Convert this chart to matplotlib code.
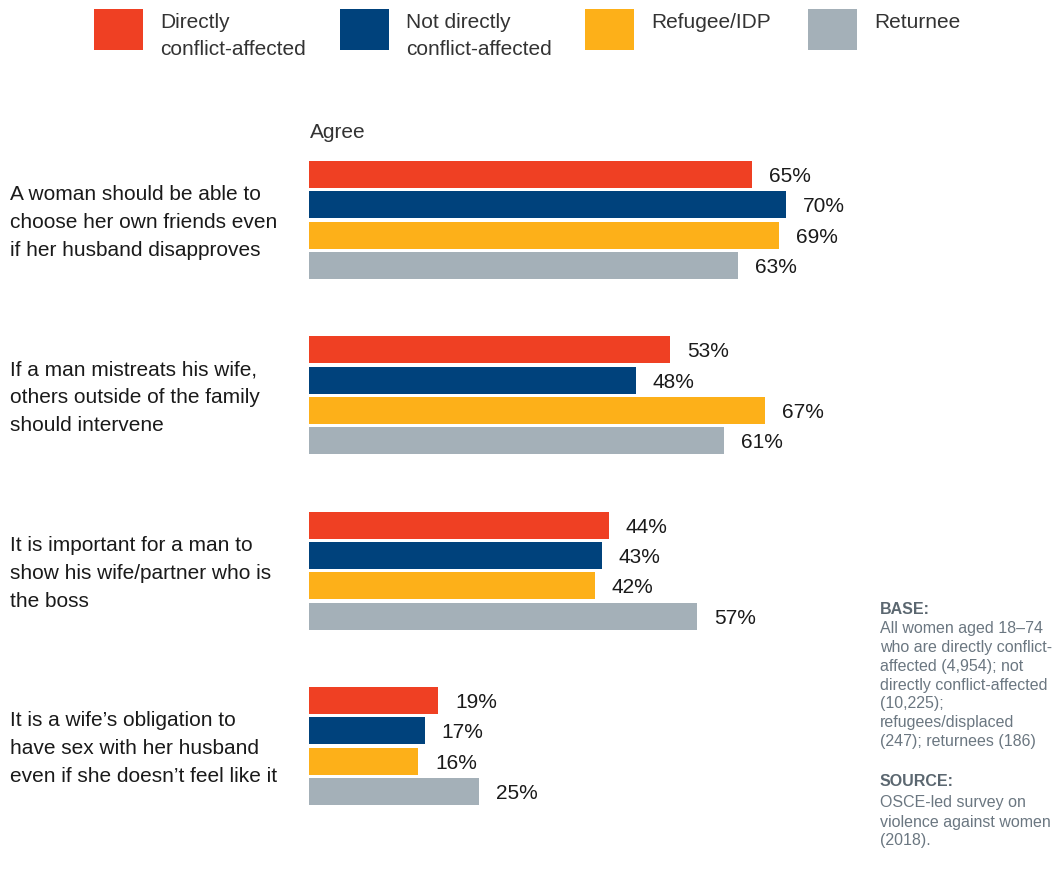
import matplotlib
matplotlib.use("Agg")
import matplotlib.pyplot as plt
from matplotlib.patches import Rectangle

plt.rcParams["font.family"] = ["Liberation Sans", "DejaVu Sans"]

# ---- data ----
statements = [
    "A woman should be able to\nchoose her own friends even\nif her husband disapproves",
    "If a man mistreats his wife,\nothers outside of the family\nshould intervene",
    "It is important for a man to\nshow his wife/partner who is\nthe boss",
    "It is a wife’s obligation to\nhave sex with her husband\neven if she doesn’t feel like it",
]
series_names = ["Directly\nconflict-affected", "Not directly\nconflict-affected",
                "Refugee/IDP", "Returnee"]
directly = [65, 53, 44, 19]
not_directly = [70, 48, 43, 17]
refugee_idp = [69, 67, 42, 16]
returnee = [63, 61, 57, 25]
series_values = [directly, not_directly, refugee_idp, returnee]
colors = ["#EF4023", "#00427C", "#FDB019", "#A4B0B8"]

base_lines = ["All women aged 18–74", "who are directly conflict-",
              "affected (4,954); not", "directly conflict-affected",
              "(10,225);", "refugees/displaced", "(247); returnees (186)"]
source_lines = ["OSCE-led survey on", "violence against women", "(2018)."]

W, H = 1053, 869
fig = plt.figure(figsize=(W / 100, H / 100), dpi=100)
fig.patch.set_facecolor("white")

# overlay in pixel units for labels / legend / notes
ov = fig.add_axes([0, 0, 1, 1])
ov.set_xlim(0, W)
ov.set_ylim(H, 0)
ov.axis("off")
ov.patch.set_alpha(0)

# bar axes: x in percent
ax = fig.add_axes([309 / W, 0, 681 / W, 1])
ax.set_xlim(0, 100)
ax.set_ylim(H, 0)
ax.axis("off")
ax.patch.set_alpha(0)

text_col = "#1a1a1a"
group_top = 161
group_step = 175.33
bar_step = 30.3
bar_h = 27

for g, stmt in enumerate(statements):
    top = group_top + g * group_step
    for s, vals in enumerate(series_values):
        yc = top + s * bar_step + bar_h / 2
        v = vals[g]
        ax.barh(yc, v, height=bar_h, color=colors[s], edgecolor="none")
        ax.annotate(f"{v}%", xy=(v, yc + 7.5), xytext=(12.2, 0),
                    textcoords="offset points", ha="left", va="baseline",
                    fontsize=15, color=text_col)
    gc = top + (3 * bar_step + bar_h) / 2
    for i, line in enumerate(stmt.split("\n")):
        ov.text(10, gc - 20 + 28 * i, line, ha="left", va="baseline",
                fontsize=15, color=text_col)

ov.text(310, 138.5, "Agree", ha="left", va="baseline", fontsize=15, color="#333333")

# legend
sq_x = [94, 340, 585, 808]
for s, name in enumerate(series_names):
    ov.add_patch(Rectangle((sq_x[s], 9), 49, 41, color=colors[s], lw=0))
    for i, line in enumerate(name.split("\n")):
        ov.text(sq_x[s] + 66, 28 + 27 * i, line, ha="left", va="baseline",
                fontsize=15, color="#333333")

# notes
note_col = "#6b7781"
nx = 880
ov.text(nx, 608 + 5.5, "BASE:", fontsize=11.5, fontweight="bold",
        color="#5b6770", ha="left", va="baseline")
for i, line in enumerate(base_lines):
    ov.text(nx, 628 + 18.7 * i + 5.5, line, fontsize=11.5, color=note_col,
            ha="left", va="baseline")
ov.text(nx, 781 + 5.5, "SOURCE:", fontsize=11.5, fontweight="bold",
        color="#5b6770", ha="left", va="baseline")
for i, line in enumerate(source_lines):
    ov.text(nx, 802 + 19 * i + 5.5, line, fontsize=11.5, color=note_col,
            ha="left", va="baseline")

fig.savefig("out.png", dpi=100, facecolor="white")
